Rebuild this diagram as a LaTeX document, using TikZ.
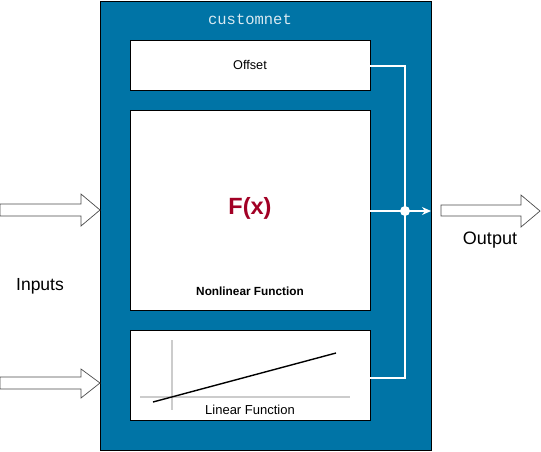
\documentclass[tikz,border=0pt]{standalone}
\usepackage{fontspec}
\setmainfont{Liberation Sans}
\setmonofont{Liberation Mono}
\usetikzlibrary{arrows.meta}
\definecolor{netblue}{RGB}{0,116,166}
\definecolor{fxred}{RGB}{162,0,37}
\tikzset{
  box/.style={draw=black, fill=white, line width=0.8pt, minimum width=240pt, anchor=north west, inner sep=0pt},
  wire/.style={draw=white, line width=1.4pt},
  blockarrow/.style={draw=black!70, fill=white, line width=0.7pt},
  lbl/.style={font=\fontsize{18}{21}\selectfont}
}
\begin{document}
\begin{tikzpicture}[x=1pt,y=-1pt]
\useasboundingbox (0,0) rectangle (541,451);
% main container
\node[draw=black, fill=netblue, line width=0.8pt, minimum width=331pt, minimum height=449pt, anchor=north west, inner sep=0pt] (net) at (100,1) {};
\node[text=white!85!netblue, font=\ttfamily\fontsize{15.5}{17}\selectfont] (title) at (250,19) {customnet};
% inner boxes
\node[box, minimum height=50pt] (offset) at (130,40) {};
\node[font=\fontsize{12.7}{15}\selectfont] (offlbl) at (250,65) {Offset};
\node[box, minimum height=200pt] (nonlin) at (130,110) {};
\node[text=fxred, font=\bfseries\fontsize{23.5}{27}\selectfont] (fx) at (250,208) {F(x)};
\node[font=\bfseries\fontsize{11.8}{14}\selectfont] (nllbl) at (250,291) {Nonlinear Function};
\node[box, minimum height=90pt] (linear) at (130,330) {};
\node[font=\fontsize{13}{15}\selectfont] (linlbl) at (250,410) {Linear Function};
% linear plot
\coordinate (va) at (172,340); \coordinate (vb) at (172,410);
\coordinate (ha) at (140,397); \coordinate (hb) at (350,397);
\draw[black!20, line width=1.3pt] (va) -- (vb);
\draw[black!20, line width=1.3pt] (ha) -- (hb);
\coordinate (la) at (153,402); \coordinate (lb) at (336,353);
\draw[black, line width=1.4pt] (la) -- (lb);
% wires
\coordinate (offR) at (370,66);
\coordinate (linR) at (370,378);
\coordinate (jt) at (405,66);
\coordinate (jb) at (405,378);
\coordinate (dot) at (405,211);
\coordinate (outp) at (431,211);
\draw[wire] (offR) -- (jt) -- (jb) -- (linR);
\draw[wire, -{Stealth[length=9pt,width=8pt]}] (370,211) -- (outp);
\fill[white] (dot) circle (5pt);
% input arrows
\draw[blockarrow] (0,204) -- (81,204) -- (81,194) -- (100,210) -- (81,226) -- (81,216) -- (0,216) -- cycle;
\draw[blockarrow] (0,377) -- (81,377) -- (81,369) -- (100,383) -- (81,398) -- (81,389) -- (0,389) -- cycle;
\node[lbl, font=\fontsize{17.5}{20}\selectfont] (inputs) at (40,286) {Inputs};
% output arrow
\draw[blockarrow] (441,205) -- (521,205) -- (521,195) -- (540,211) -- (521,227) -- (521,216) -- (441,216) -- cycle;
\node[lbl] (output) at (490,240) {Output};
\end{tikzpicture}
\end{document}
